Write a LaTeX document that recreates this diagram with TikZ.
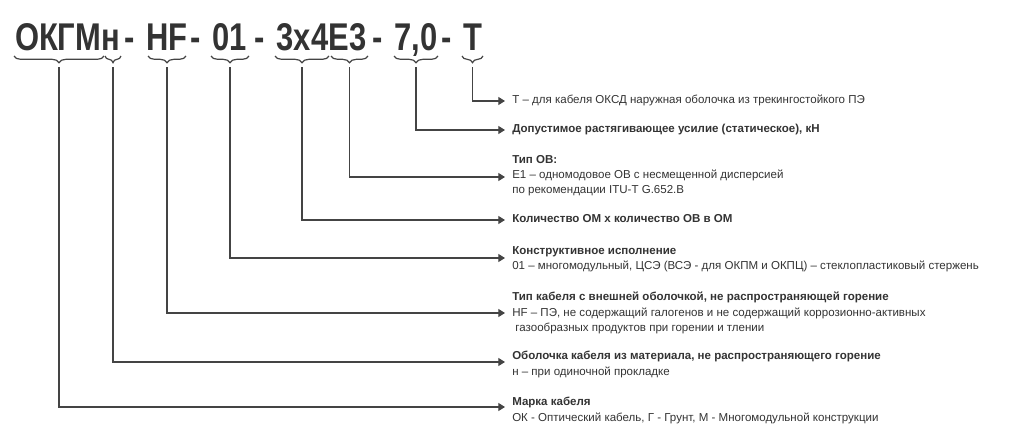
\documentclass[tikz,border=0pt]{standalone}
\usepackage{fontspec}
\setmainfont{Liberation Sans}
\usetikzlibrary{decorations.pathreplacing,arrows.meta,calc}
\definecolor{txt}{HTML}{333333}
\definecolor{ln}{HTML}{444444}
\newcommand{\tsq}[1]{\scalebox{0.8}[1]{#1}}
\begin{document}
\begin{tikzpicture}[x=0.75pt,y=-0.75pt,
  title/.style={font=\fontsize{29}{29}\selectfont\bfseries,text=txt,anchor=base,inner sep=0pt},
  br/.style={draw=ln,line width=0.9pt,decorate,decoration={brace,mirror,amplitude=5pt}},
  conn/.style={draw=ln,line width=0.8pt,-{Triangle[length=5pt,width=6pt]}},
  desc/.style={font=\fontsize{8.65}{11.5}\selectfont,text=txt,anchor=north west,align=left,inner sep=0pt}]
\useasboundingbox (0,0) rectangle (1025,443);
\foreach \x/\s/\n in {67.5/ОКГМн/p1,130/-/s1,167/HF/p2,196/-/s2,230/01/p3,260/-/s3,321.5/3x4E3/p4,378/-/s4,416/{7,0}/p5,447/-/s5,472.5/T/p6}{
  \node[title] (\n) at (\x,50) {\tsq{\s}};
}
% braces with tips
\foreach \a/\b/\n in {14/104/b1,105/121/b2,148/186/b3,211/249/b4,275/329/b5,331/368/b6,394/438/b7,462/483/b8}{
  \draw[br] (\a,56) -- (\b,56) coordinate[pos=0.5] (\n m);
  \coordinate (\n) at ($(\n m)+(0,11)$);
}
% descriptions
\node[desc] (d8) at (512,95) {T – для кабеля ОКСД наружная оболочка из трекингостойкого ПЭ};
\node[desc] (d7) at (512,124) {\textbf{Допустимое растягивающее усилие (статическое), кН}};
\node[desc] (d6) at (512,155) {\textbf{Тип ОВ:}\\Е1 – одномодовое ОВ с несмещенной дисперсией\\по рекомендации ITU-T G.652.B};
\node[desc] (d5) at (512,214) {\textbf{Количество ОМ х количество ОВ в ОМ}};
\node[desc] (d4) at (512,246) {\textbf{Конструктивное исполнение}\\01 – многомодульный, ЦСЭ (ВСЭ - для ОКПМ и ОКПЦ) – стеклопластиковый стержень};
\node[desc] (d3) at (512,292) {\textbf{Тип кабеля с внешней оболочкой, не распространяющей горение}\\HF – ПЭ, не содержащий галогенов и не содержащий коррозионно-активных\\\ газообразных продуктов при горении и тлении};
\node[desc] (d2) at (512,351) {\textbf{Оболочка кабеля из материала, не распространяющего горение}\\н – при одиночной прокладке};
\node[desc] (d1) at (512,397) {\textbf{Марка кабеля}\\ОК - Оптический кабель, Г - Грунт, М - Многомодульной конструкции};
\foreach \n/\y in {b8/101,b7/130,b6/177,b5/220,b4/258,b3/313,b2/362,b1/407}{
  \coordinate (e\n) at (505,\y);
  \draw[conn] (\n) |- (e\n);
}
\end{tikzpicture}
\end{document}
